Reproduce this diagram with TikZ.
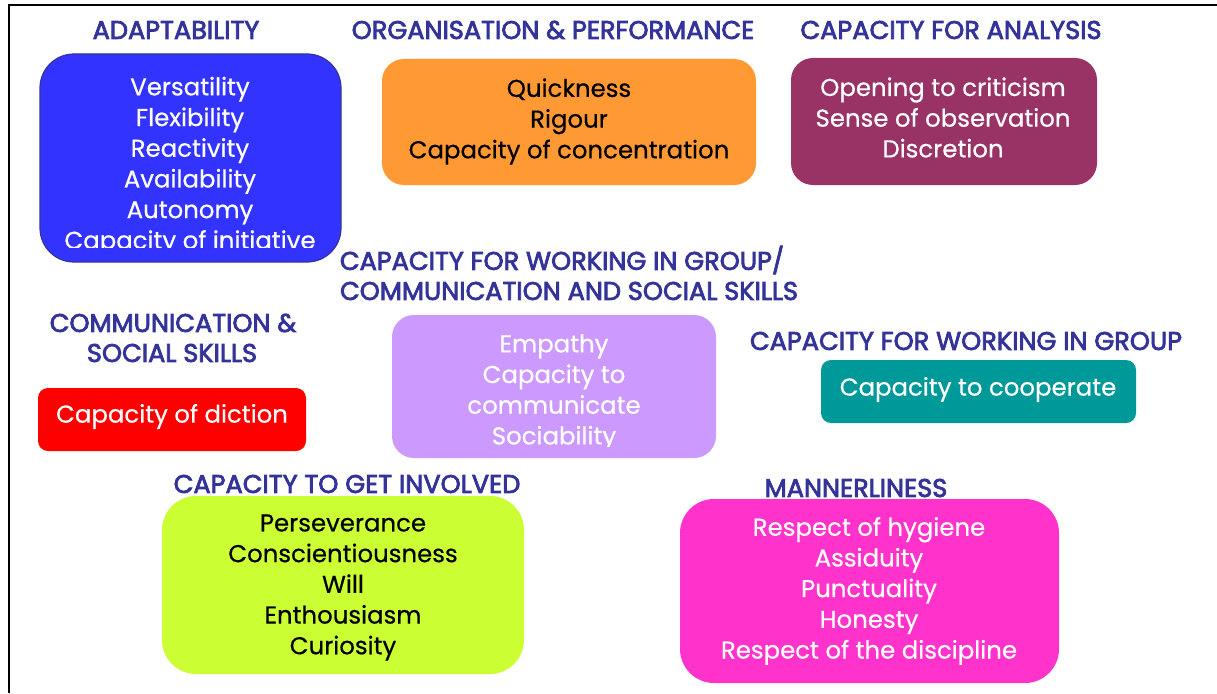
\documentclass[tikz,border=0pt]{standalone}
\usepackage{fontspec}
\setmainfont{Poppins}
\newfontfamily\bodyfont{Poppins}[FakeBold=0.5]
\newfontfamily\headfont{Poppins}[FakeBold=3]
\definecolor{headblue}{HTML}{333399}
\definecolor{cblue}{HTML}{3333FF}
\definecolor{corange}{HTML}{FF9933}
\definecolor{cmaroon}{HTML}{993366}
\definecolor{clav}{HTML}{CC99FF}
\definecolor{cred}{HTML}{FF0000}
\definecolor{cteal}{HTML}{009999}
\definecolor{clime}{HTML}{CCFF33}
\definecolor{cpink}{HTML}{FF33CC}
\tikzset{
  box/.style={draw=none, inner sep=0pt, outer sep=0pt},
  txt/.style={align=center, inner sep=0pt, font=\bodyfont\fontsize{24.4}{30.7}\selectfont},
  head/.style={inner sep=0pt, text=headblue, font=\headfont\fontsize{25.6}{30.7}\selectfont},
}
\begin{document}
\begin{tikzpicture}[x=1pt,y=-1pt]
\useasboundingbox (0,0) rectangle (1217,693);
\fill[white] (0,0) rectangle (1217,693);
\coordinate (fa) at (8.5,693);
\coordinate (fb) at (8.5,5);
\coordinate (fc) at (1217,5);
\draw[line width=2pt] (fa) -- (fb) -- (fc);

% ADAPTABILITY
\node[head] (h1) at (176,30) {ADAPTABILITY};
\node[box, fill=cblue, draw=headblue, line width=1.2pt, rounded corners=34pt, minimum width=301pt, minimum height=208pt] (b1) at (190.5,158) {};
\begin{scope}
\clip (40,54) rectangle (341,247);
\node[txt, text=white] (t1) at (190,166) {Versatility\\Flexibility\\Reactivity\\Availability\\Autonomy\\Capacity of initiative};
\end{scope}

% ORGANISATION
\node[head] (h2) at (553,30) {ORGANISATION \& PERFORMANCE};
\node[box, fill=corange, rounded corners=22pt, minimum width=374pt, minimum height=126pt] (b2) at (569,122) {};
\node[txt, text=black] (t2) at (569,121.5) {Quickness\\Rigour\\Capacity of concentration};

% ANALYSIS
\node[head] (h3) at (951,30) {CAPACITY FOR ANALYSIS};
\node[box, fill=cmaroon, rounded corners=22pt, minimum width=306pt, minimum height=127pt] (b3) at (944,121.5) {};
\node[txt, text=white] (t3) at (943,117.5) {Opening to criticism\\Sense of observation\\Discretion};

% GROUP / COMMUNICATION
\node[head] (h4) at (562,260) {CAPACITY FOR WORKING IN GROUP/};
\node[head] (h4b) at (569,291) {COMMUNICATION AND SOCIAL SKILLS};
\node[box, fill=clav, rounded corners=22pt, minimum width=324pt, minimum height=143pt] (b4) at (554,386.5) {};
\begin{scope}
\clip (392,315) rectangle (716,446);
\node[txt, text=white] (t4) at (554,392.5) {Empathy\\Capacity to\\communicate\\Sociability};
\end{scope}

% COMMUNICATION & SOCIAL SKILLS
\node[head] (h5) at (173,323) {COMMUNICATION \&};
\node[head] (h5b) at (172,353) {SOCIAL SKILLS};
\node[box, fill=cred, rounded corners=10pt, minimum width=268pt, minimum height=63pt] (b5) at (172,419.5) {};
\node[txt, text=white] (t5) at (172,416.5) {Capacity of diction};

% WORKING IN GROUP
\node[head] (h6) at (966,341) {CAPACITY FOR WORKING IN GROUP};
\node[box, fill=cteal, rounded corners=10pt, minimum width=315pt, minimum height=63pt] (b6) at (978.5,391.5) {};
\node[txt, text=white] (t6) at (978,389.5) {Capacity to cooperate};

% GET INVOLVED
\node[head] (h7) at (347,484) {CAPACITY TO GET INVOLVED};
\node[box, fill=clime, rounded corners=34pt, minimum width=362pt, minimum height=178pt] (b7) at (343,585) {};
\node[txt, text=black] (t7) at (343,587.5) {Perseverance\\Conscientiousness\\Will\\Enthousiasm\\Curiosity};

% MANNERLINESS
\node[head] (h8) at (856,488) {MANNERLINESS};
\node[box, fill=cpink, rounded corners=34pt, minimum width=379pt, minimum height=184pt] (b8) at (869.5,591) {};
\node[txt, text=white] (t8) at (869,591) {Respect of hygiene\\Assiduity\\Punctuality\\Honesty\\Respect of the discipline};
\end{tikzpicture}
\end{document}
